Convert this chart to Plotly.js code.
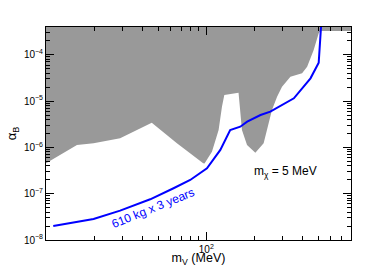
<!DOCTYPE html>
<html>
<head>
<meta charset="utf-8">
<script src="https://cdn.plot.ly/plotly-3.0.1.min.js"></script>
<style>html,body{margin:0;padding:0;background:#fff;}#chart{width:390px;height:267px;}</style>
</head>
<body>
<div id="chart"></div>
<script>
// Excluded region (gray) lower boundary, m_V in MeV, alpha_B
const excludedX = [10, 15.6, 19.8, 29, 45.7, 65.6, 95.7, 97.5, 108.5, 119.4, 125.3, 129.6, 159, 163, 167, 179.6, 202.4, 228, 245, 257, 276.6, 297, 335, 396, 426, 468, 503, 516, 800, 800, 10];
const excludedY = [4.54e-7, 1.13e-6, 1.23e-6, 1.57e-6, 3.42e-6, 1.23e-6, 4.54e-7, 4.5e-7, 8.07e-7, 2.38e-6, 7.57e-6, 1.35e-5, 1.52e-5, 5.45e-6, 2.38e-6, 1.13e-6, 7.69e-7, 1.23e-6, 3.31e-6, 6.43e-6, 1.24e-5, 2.05e-5, 3.37e-5, 3.98e-5, 5.53e-5, 1.27e-4, 2.91e-4, 3.27e-4, 3.27e-4, 1e-2, 1e-2];

// Projected sensitivity: 610 kg x 3 years
const sensX = [11.1, 19.8, 29, 44.7, 62.5, 79.4, 101, 122.4, 141, 163, 180, 218, 251, 352, 447, 503, 524];
const sensY = [2.0e-8, 2.84e-8, 4.3e-8, 7.57e-8, 1.31e-7, 1.98e-7, 3.54e-7, 8.8e-7, 2.38e-6, 2.8e-6, 3.59e-6, 5.0e-6, 5.9e-6, 1.15e-5, 3.1e-5, 6.76e-5, 6e-4];

const xTickVals = [100];
const xTickText = ['10<sup>2</sup>'];
const xMinorVals = [20, 30, 40, 50, 60, 70, 80, 90, 200, 300, 400, 500, 600, 700];
const yTickVals = [1e-8, 1e-7, 1e-6, 1e-5, 1e-4];
const yTickText = ['10<sup>−8</sup>', '10<sup>−7</sup>', '10<sup>−6</sup>', '10<sup>−5</sup>', '10<sup>−4</sup>'];
const yMinorVals = [];
[-8, -7, -6, -5, -4].forEach(e => { for (let m = 2; m <= 9; m++) yMinorVals.push(m * Math.pow(10, e)); });

const labelSens = '610 kg x 3 years';
const labelMass = 'm<sub>χ</sub> = 5 MeV';

const FONT = 'Liberation Sans, Arial, sans-serif';

const traces = [
  {
    x: excludedX, y: excludedY, type: 'scatter', mode: 'lines',
    fill: 'toself', fillcolor: '#999999', line: {width: 0, color: '#999999'},
    hoverinfo: 'skip', showlegend: false
  },
  {
    x: sensX, y: sensY, type: 'scatter', mode: 'lines',
    line: {color: '#0000ff', width: 2}, showlegend: false
  }
];

const layout = {
  width: 390, height: 267,
  margin: {l: 46, r: 39, t: 27, b: 27},
  paper_bgcolor: '#ffffff', plot_bgcolor: '#ffffff',
  font: {family: FONT, size: 10, color: '#000'},
  showlegend: false,
  xaxis: {
    type: 'log', range: [1, Math.log10(800)],
    tickmode: 'array', tickvals: xTickVals, ticktext: xTickText,
    ticks: 'inside', ticklen: 8, tickwidth: 1, tickcolor: '#000',
    showline: true, linecolor: '#000', linewidth: 1, mirror: 'ticks',
    showgrid: false, zeroline: false,
    tickfont: {size: 10, family: FONT},
    minor: {tickmode: 'array', tickvals: xMinorVals, ticks: 'inside', ticklen: 4, tickcolor: '#000', showgrid: false},
    title: {text: 'm<sub>V</sub> (MeV)', font: {size: 12.5, family: FONT}, standoff: 2}
  },
  yaxis: {
    type: 'log', range: [-8, -3.4],
    tickmode: 'array', tickvals: yTickVals, ticktext: yTickText,
    ticks: 'inside', ticklen: 8, tickwidth: 1, tickcolor: '#000',
    showline: true, linecolor: '#000', linewidth: 1, mirror: 'ticks',
    showgrid: false, zeroline: false,
    tickfont: {size: 10, family: FONT},
    minor: {tickmode: 'array', tickvals: yMinorVals, ticks: 'inside', ticklen: 4, tickcolor: '#000', showgrid: false},
    title: {text: 'α<sub>B</sub>', font: {size: 13, family: FONT}, standoff: 4}
  },
  annotations: [
    {
      x: Math.log10(46.6), y: -7.309, xref: 'x', yref: 'y',
      text: labelSens, showarrow: false, textangle: -22,
      font: {size: 12, family: FONT, color: '#0000ff'}
    },
    {
      x: Math.log10(312), y: -6.531, xref: 'x', yref: 'y',
      text: labelMass, showarrow: false,
      font: {size: 12, family: FONT, color: '#000'}
    }
  ]
};

Plotly.newPlot('chart', traces, layout, {displayModeBar: false, staticPlot: true});
</script>
</body>
</html>
